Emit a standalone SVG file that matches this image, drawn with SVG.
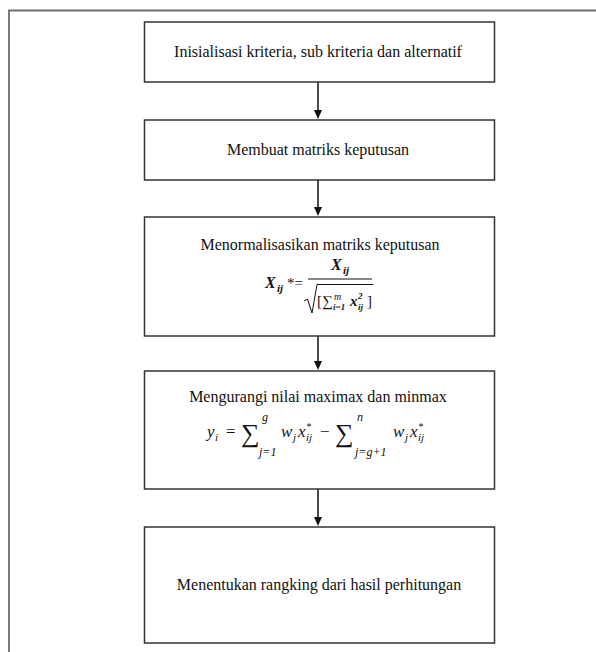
<svg xmlns="http://www.w3.org/2000/svg" width="596" height="652" viewBox="0 0 596 652">
<style>
.box{fill:#fff;stroke:#333;stroke-width:1.5}
text{font-family:'Liberation Serif','DejaVu Serif',serif;fill:#111}
.t{font-size:16px;text-anchor:middle}
.m{font-style:italic}
.mb{font-style:italic;font-weight:bold}
.c{stroke:#111;stroke-width:1.5;fill:none}
</style>
<rect width="596" height="652" fill="#fff"/>
<path d="M9,652 L9,10.5 L596,10.5" fill="none" stroke="#6e6e6e" stroke-width="1.8"/>

<g id="connectors">
<line class="c" x1="318" y1="82" x2="318" y2="110"/><path d="M314,110 L322,110 L318,119 Z" fill="#111"/>
<line class="c" x1="318" y1="180" x2="318" y2="207"/><path d="M314,207 L322,207 L318,216 Z" fill="#111"/>
<line class="c" x1="318" y1="336" x2="318" y2="361"/><path d="M314,361 L322,361 L318,370 Z" fill="#111"/>
<line class="c" x1="318" y1="489" x2="318" y2="517"/><path d="M314,517 L322,517 L318,526 Z" fill="#111"/>
</g>

<g id="n1">
<rect class="box" x="144.5" y="22" width="350" height="60"/>
<text class="t" x="318" y="57">Inisialisasi kriteria, sub kriteria dan alternatif</text>
</g>

<g id="n2">
<rect class="box" x="144.5" y="120" width="350" height="60"/>
<text class="t" x="318" y="155">Membuat matriks keputusan</text>
</g>

<g id="n3">
<rect class="box" x="144.5" y="217" width="350" height="119"/>
<text class="t" x="320" y="250">Menormalisasikan matriks keputusan</text>
<text class="mb" x="265" y="288" font-size="16">X</text>
<text class="mb" x="277" y="292" font-size="11">ij</text>
<text x="287" y="288" font-size="15">*=</text>
<text class="mb" x="331" y="270" font-size="16">X</text>
<text class="mb" x="343" y="274" font-size="11">ij</text>
<line x1="308" y1="279" x2="372" y2="279" stroke="#111" stroke-width="1"/>
<path d="M304,301 L307.5,299 L312,313 L317,284.5 L373,284.5" fill="none" stroke="#111" stroke-width="1"/>
<text x="317" y="306" font-size="15">[</text>
<text x="322" y="306" font-size="15">∑</text>
<text class="m" x="334" y="300" font-size="10">m</text>
<text class="mb" x="333" y="310" font-size="9">i=1</text>
<text class="mb" x="350" y="306" font-size="15">x</text>
<text class="mb" x="358" y="299" font-size="9">2</text>
<text class="mb" x="358" y="310" font-size="9">ij</text>
<text x="367" y="306" font-size="15">]</text>
</g>

<g id="n4">
<rect class="box" x="144.5" y="371" width="350" height="118"/>
<text class="t" x="318" y="402">Mengurangi nilai maximax dan minmax</text>
<text class="m" x="207" y="437" font-size="17">y</text>
<text class="m" x="215" y="441" font-size="11">i</text>
<text x="226" y="437" font-size="17">=</text>
<text x="241" y="442" font-size="26">∑</text>
<text class="m" x="262" y="421" font-size="12">g</text>
<text class="m" x="259" y="456" font-size="12">j=1</text>
<text class="m" x="281" y="437" font-size="17">w</text>
<text class="m" x="293" y="441" font-size="11">j</text>
<text class="m" x="298" y="437" font-size="17">x</text>
<text class="m" x="306" y="430" font-size="10">*</text>
<text class="m" x="306" y="441" font-size="11">ij</text>
<text x="320" y="437" font-size="17">−</text>
<text x="335" y="442" font-size="26">∑</text>
<text class="m" x="357" y="421" font-size="12">n</text>
<text class="m" x="355" y="456" font-size="12">j=g+1</text>
<text class="m" x="393" y="437" font-size="17">w</text>
<text class="m" x="405" y="441" font-size="11">j</text>
<text class="m" x="410" y="437" font-size="17">x</text>
<text class="m" x="418" y="430" font-size="10">*</text>
<text class="m" x="418" y="441" font-size="11">ij</text>
</g>

<g id="n5">
<rect class="box" x="144.5" y="527" width="350" height="116"/>
<text class="t" x="319" y="590">Menentukan rangking dari hasil perhitungan</text>
</g>
</svg>
